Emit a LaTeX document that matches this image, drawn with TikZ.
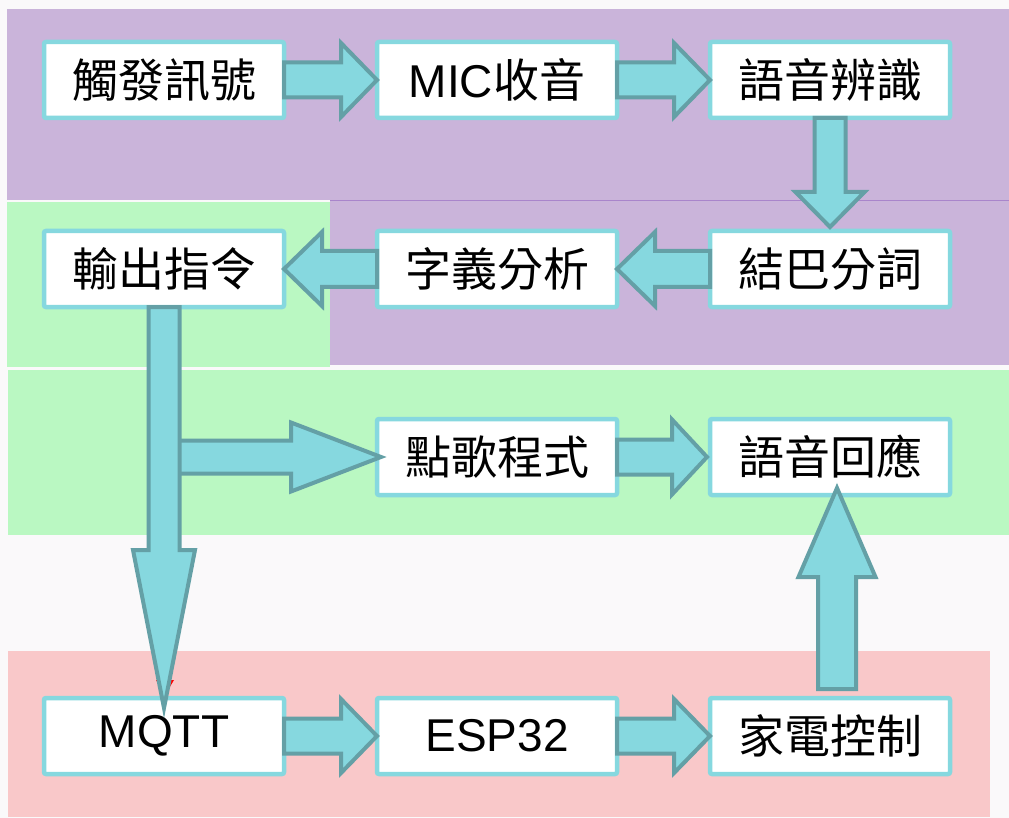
\documentclass[tikz,border=0pt]{standalone}
\usepackage{fontspec}
\newfontfamily\cjk{Noto Sans CJK TC}
\newfontfamily\lat{Liberation Sans}
\usetikzlibrary{calc}
\definecolor{bgwhite}{HTML}{FAF9FA}
\definecolor{bgpurple}{HTML}{CAB4DA}
\definecolor{bggreen}{HTML}{BAF8C2}
\definecolor{bgpink}{HTML}{F9C8C9}
\definecolor{purpline}{HTML}{A985CB}
\definecolor{boxline}{HTML}{86D8DF}
\definecolor{arrfill}{HTML}{86D8DF}
\definecolor{arrline}{HTML}{64A0A6}
\tikzset{
  box/.style={draw=boxline, line width=4.5pt, fill=white, rounded corners=2pt,
    minimum width=240pt, minimum height=76pt, inner sep=0pt, outer sep=0pt,
    font=\cjk\fontsize{46}{50}\selectfont, text=black},
  blockarrow/.style={fill=arrfill, draw=arrline, line width=4pt, line join=miter},
}
% horizontal block arrow: #1 tail, #2 tip, #3 shaft half, #4 head half, #5 head length
\newcommand\harrow[5]{%
  \draw[blockarrow] let \p1=(#1), \p2=(#2), \p3=($(#2)!#5pt!(#1)$) in
    (\x1,\y2+#3pt) -- (\x3,\y2+#3pt) -- (\x3,\y2+#4pt) -- (\p2)
    -- (\x3,\y2-#4pt) -- (\x3,\y2-#3pt) -- (\x1,\y2-#3pt) -- cycle;}
% vertical block arrow
\newcommand\varrow[5]{%
  \draw[blockarrow] let \p1=(#1), \p2=(#2), \p3=($(#2)!#5pt!(#1)$) in
    (\x2+#3pt,\y1) -- (\x2+#3pt,\y3) -- (\x2+#4pt,\y3) -- (\p2)
    -- (\x2-#4pt,\y3) -- (\x2-#3pt,\y3) -- (\x2-#3pt,\y1) -- cycle;}
\begin{document}
\begin{tikzpicture}[x=1pt,y=-1pt]
\useasboundingbox (0,0) rectangle (1009,818);
% backgrounds
\fill[bgwhite] (0,0) rectangle (1009,818);
\fill[bgpurple] (7,9) rectangle (1009,200);
\fill[bgpurple] (330,200) rectangle (1009,365);
\fill[bggreen] (7,202) rectangle (330,367);
\fill[bggreen] (8,370) rectangle (1009,535);
\fill[bgpink] (8,651) rectangle (990,817);
\draw[purpline, line width=1pt] (330,200.5) -- (1009,200.5);

% boxes
\node[box] (b1) at (164,80) {觸發訊號};
\node[box] (b2) at (497,80) {{\lat MIC}收音};
\node[box] (b3) at (830,80) {語音辨識};
\node[box] (b4) at (830,269) {結巴分詞};
\node[box] (b5) at (497,269) {字義分析};
\node[box] (b6) at (164,269) {輸出指令};
\node[box] (b7) at (497,457) {點歌程式};
\node[box] (b8) at (830,457) {語音回應};
\node[box] (b9) at (164,736) {\lat MQTT};
\node[box] (b10) at (497,736) {\lat ESP32};
\node[box] (b11) at (830,736) {家電控制};

% helper coordinates
\coordinate (t3) at ($(b4.north)+(0,-4)$);
\coordinate (s7) at (b6.south |- b7.west);
\coordinate (t7) at ($(b7.west)+(4,0)$);
\coordinate (t6) at ($(b9.north)+(0,10)$);
\coordinate (t8) at ($(b8.west)+(-3,0)$);
\coordinate (s9) at ($(b11.north)+(7,-9)$);
\coordinate (t9) at ($(b8.south)+(7,-7)$);

% arrows
\harrow{b1.east}{b2.west}{17.5}{37}{36}
\harrow{b2.east}{b3.west}{17.5}{37}{36}
\varrow{b3.south}{t3}{15.5}{34.5}{35}
\harrow{b4.west}{b5.east}{18}{37}{38}
\harrow{b5.west}{b6.east}{18}{37}{38}
\harrow{s7}{t7}{16.5}{34.5}{90}
\fill[red] (156,680) -- (174,680) -- (165,695) -- cycle;
\varrow{b6.south}{t6}{15.5}{31}{158}
\harrow{b7.east}{t8}{17.5}{37.5}{35}
\varrow{s9}{t9}{19}{38.5}{89}
\harrow{b9.east}{b10.west}{17.5}{37}{36}
\harrow{b10.east}{b11.west}{17.5}{37}{36}
\end{tikzpicture}
\end{document}
